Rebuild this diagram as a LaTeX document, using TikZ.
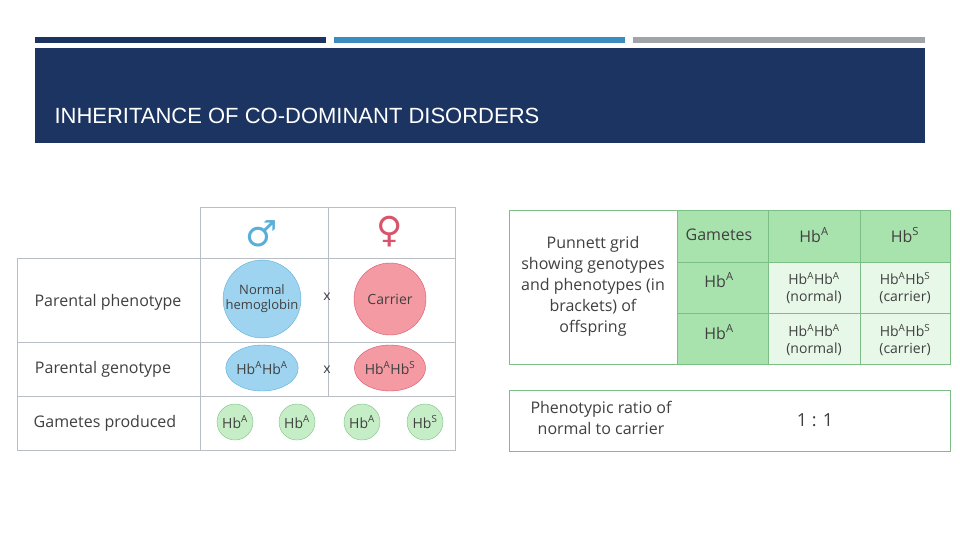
\documentclass[tikz,border=0pt]{standalone}
\usepackage{fontspec}
\usetikzlibrary{shapes.geometric}
\setmainfont{Open Sans}
\newfontfamily\symf{DejaVu Sans}
\newfontfamily\titlef{Liberation Sans}
\definecolor{navy}{HTML}{1C3461}
\definecolor{midblue}{HTML}{3B8CBF}
\definecolor{greybar}{HTML}{A0A4A8}
\definecolor{gridc}{HTML}{B8BEC4}
\definecolor{bfill}{HTML}{9FD4F0}
\definecolor{bline}{HTML}{5AAED8}
\definecolor{rfill}{HTML}{F39AA3}
\definecolor{rline}{HTML}{D9546A}
\definecolor{gfill}{HTML}{C6EEC6}
\definecolor{gline}{HTML}{7DBE86}
\definecolor{gcell}{HTML}{A8E3AE}
\definecolor{gcelll}{HTML}{E8F8E8}
\definecolor{txt}{HTML}{404040}
\tikzset{
 lbl/.style={text=txt,font=\fontsize{16}{21}\selectfont,align=center},
 sm/.style={text=txt,font=\fontsize{14}{17}\selectfont,align=center},
 bcirc/.style={circle,fill=bfill,draw=bline,minimum size=72pt,inner sep=0pt},
 rcirc/.style={circle,fill=rfill,draw=rline,minimum size=72pt,inner sep=0pt},
 gcirc/.style={circle,fill=gfill,draw=gline,minimum size=36pt,inner sep=0pt},
 grid/.style={draw=gridc,line width=0.8pt},
 pg/.style={draw=gline,line width=1pt}
}
\newcommand{\hb}[1]{Hb\textsuperscript{#1}}
\begin{document}
\begin{tikzpicture}[x=1pt,y=-1pt]
\useasboundingbox (0,0) rectangle (960,540);
\fill[white] (0,0) rectangle (960,540);
\fill[navy] (35,37) rectangle (326,43);
\fill[midblue] (334,37) rectangle (625,43);
\fill[greybar] (633,37) rectangle (925,43);
\fill[navy] (35,48) rectangle (925,143);
\node[anchor=west,text=white,font=\titlef\fontsize{22}{24}\selectfont] (title) at (51,116) {INHERITANCE OF CO-DOMINANT DISORDERS};
% left table
\draw[grid] (200,207) rectangle (455,258);
\draw[grid] (17,258) rectangle (455,450);
\draw[grid] (17,342) -- (455,342);
\draw[grid] (17,396) -- (455,396);
\draw[grid] (200,258) -- (200,450);
\draw[grid] (328,207) -- (328,396);
\node[text=bline,font=\symf\fontsize{36}{36}\selectfont] (male) at (262,234) {♂};
\node[text=rline,font=\symf\fontsize{36}{36}\selectfont] (female) at (390,232) {♀};
\node[lbl] (l1) at (108,302) {Parental phenotype};
\node[lbl] (l2) at (103,369) {Parental genotype};
\node[lbl] (l3) at (105,423) {Gametes produced};
\node[bcirc,text=txt,align=center,font=\fontsize{13}{15}\selectfont] (p1) at (262,299) {Normal\\hemoglobin};
\node[rcirc,sm] (p2) at (390,299) {Carrier};
\node[sm] (x1) at (327,297) {x};
\node[ellipse,fill=bfill,draw=bline,minimum width=68pt,minimum height=46pt,inner sep=0pt,sm] (g1) at (262,368) {\hb{A}\hb{A}};
\node[ellipse,fill=rfill,draw=rline,minimum width=68pt,minimum height=46pt,inner sep=0pt,sm] (g2) at (390,368) {\hb{A}\hb{S}};
\node[sm] (x2) at (327,370) {x};
\node[gcirc,sm] (c1) at (235,422) {\hb{A}};
\node[gcirc,sm] (c2) at (297,422) {\hb{A}};
\node[gcirc,sm] (c3) at (362,422) {\hb{A}};
\node[gcirc,sm] (c4) at (425,422) {\hb{S}};
% punnett
\fill[gcell] (677,210) rectangle (950,364);
\fill[gcelll] (768,262) rectangle (950,364);
\draw[pg] (509,210) rectangle (950,364);
\draw[pg] (677,210) -- (677,364);
\draw[pg] (768,210) -- (768,364);
\draw[pg] (860,210) -- (860,364);
\draw[pg] (677,262) -- (950,262);
\draw[pg] (677,313) -- (950,313);
\node[lbl] (pl) at (593,286) {Punnett grid\\showing genotypes\\and phenotypes (in\\brackets) of\\offspring};
\node[lbl] (h0) at (719,235) {Gametes};
\node[lbl] (h1) at (814,235) {\hb{A}};
\node[lbl] (h2) at (905,235) {\hb{S}};
\node[lbl] (r1) at (719,280) {\hb{A}};
\node[lbl] (r2) at (719,332) {\hb{A}};
\node[sm] (a1) at (814,288) {\hb{A}\hb{A}\\(normal)};
\node[sm] (a2) at (905,288) {\hb{A}\hb{S}\\(carrier)};
\node[sm] (a3) at (814,340) {\hb{A}\hb{A}\\(normal)};
\node[sm] (a4) at (905,340) {\hb{A}\hb{S}\\(carrier)};
\draw[pg] (509,390) rectangle (950,451);
\node[lbl] (rl) at (601,418) {Phenotypic ratio of\\normal to carrier};
\node[lbl,font=\fontsize{18}{18}\selectfont] (rv) at (815,420) {1 : 1};
\end{tikzpicture}
\end{document}
